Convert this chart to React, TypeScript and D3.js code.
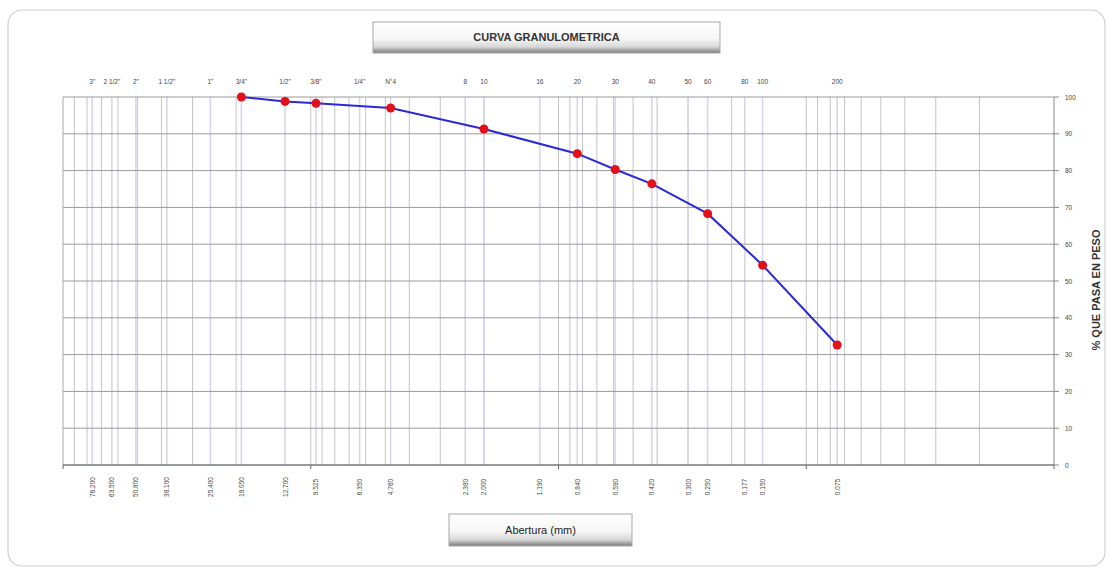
import React from "react";
import * as d3 from "d3";

const sieveNames = ['3"', '2 1/2"', '2"', '1 1/2"', '1"', '3/4"', '1/2"', '3/8"', '1/4"', 'N°4', '8', '10', '16', '20', '30', '40', '50', '60', '80', '100', '200'];
const sieveSizes = [76.2, 63.5, 50.8, 38.1, 25.4, 19.05, 12.7, 9.525, 6.35, 4.76, 2.38, 2.0, 1.19, 0.84, 0.59, 0.42, 0.3, 0.25, 0.177, 0.15, 0.075];
const sieveLabels = ['76.200', '63.500', '50.800', '38.100', '25.400', '19.050', '12.700', '9.525', '6.350', '4.760', '2.380', '2.000', '1.190', '0.840', '0.590', '0.420', '0.300', '0.250', '0.177', '0.150', '0.075'];

const testSizes = [19.05, 12.7, 9.525, 4.76, 2.0, 0.84, 0.59, 0.42, 0.25, 0.15, 0.075];
const testPassing = [100, 98.8, 98.3, 97.0, 91.3, 84.6, 80.3, 76.4, 68.3, 54.3, 32.6];

const yTicks = [0, 10, 20, 30, 40, 50, 60, 70, 80, 90, 100];

const W = 1113, H = 573;
const L = 63, R = 1054, T = 97, B = 465;
const FONT = "'Liberation Sans', Arial, sans-serif";

export default function App() {
  const x = d3.scaleLog().domain([100, 0.01]).range([L, R]);
  const y = d3.scaleLinear().domain([0, 100]).range([B, T]);

  const minor: number[] = [];
  for (let e = -2; e <= 1; e++) {
    for (let m = 1; m <= 9; m++) {
      const v = m * Math.pow(10, e);
      if (v > 0.01 && v < 100) minor.push(v);
    }
  }

  const pts = testSizes.map((s, i) => [x(s), y(testPassing[i])] as [number, number]);
  const line = d3.line().curve(d3.curveLinear)(pts) || "";

  return (
    <svg width={W} height={H} style={{ position: "absolute", left: 0, top: 0 }} fontFamily={FONT}>
      <defs>
        <linearGradient id="btn" x1="0" y1="0" x2="0" y2="1">
          <stop offset="0" stopColor="#ffffff" />
          <stop offset="0.55" stopColor="#f6f6f6" />
          <stop offset="0.8" stopColor="#d8d8d8" />
          <stop offset="1" stopColor="#7a7a7a" />
        </linearGradient>
      </defs>
      <rect x={0} y={0} width={W} height={H} fill="#fff" />
      <rect x={8} y={10} width={1097} height={556} rx={14} fill="#fff" stroke="#cfcfcf" strokeWidth={1.2} />

      {/* Title box */}
      <rect x={373} y={22} width={347} height={31} fill="url(#btn)" stroke="#a8a8a8" strokeWidth={1} />
      <text x={546.5} y={41} textAnchor="middle" fontSize={11} fontWeight="bold" fill="#333">CURVA GRANULOMETRICA</text>

      {/* minor log grid */}
      {minor.map((v, i) => (
        <line key={"m" + i} x1={x(v)} x2={x(v)} y1={T} y2={B} stroke="#c4c4c4" strokeWidth={1} />
      ))}
      {/* sieve lines */}
      {sieveSizes.map((s, i) => (
        <line key={"s" + i} x1={x(s)} x2={x(s)} y1={T} y2={B} stroke="#d4d4ea" strokeWidth={1.5} />
      ))}
      {/* horizontal grid */}
      {yTicks.map((t) => (
        <line key={"h" + t} x1={L} x2={R} y1={y(t)} y2={y(t)} stroke="#9a9a9a" strokeWidth={1} />
      ))}
      <line x1={L} x2={L} y1={T} y2={B} stroke="#aaa" strokeWidth={1} />
      <line x1={L} x2={R} y1={B} y2={B} stroke="#666" strokeWidth={1} />
      <line x1={R} x2={R} y1={T} y2={B} stroke="#888" strokeWidth={1} />
      {[100, 10, 1, 0.1, 0.01].map((v) => (
        <line key={"bt" + v} x1={x(v)} x2={x(v)} y1={B} y2={B + 4} stroke="#666" />
      ))}

      {/* right axis ticks */}
      {yTicks.map((t) => (
        <g key={"yt" + t}>
          <line x1={R} x2={R + 5} y1={y(t)} y2={y(t)} stroke="#888" />
          <text x={R + 11} y={y(t) + 2.5} fontSize={6.5} fill="#444">{t}</text>
        </g>
      ))}
      <text transform={`translate(1100,290) rotate(-90)`} textAnchor="middle" fontSize={11} fontWeight="bold" fill="#333">% QUE PASA EN PESO</text>

      {/* top sieve names */}
      {sieveNames.map((n, i) => (
        <text key={"tn" + i} x={x(sieveSizes[i])} y={84} textAnchor="middle" fontSize={6.5} fill="#444">{n}</text>
      ))}
      {/* bottom size labels */}
      {sieveLabels.map((l, i) => (
        <text key={"bl" + i} transform={`translate(${x(sieveSizes[i]) + 2.5},487) rotate(-90)`} textAnchor="middle" fontSize={6.5} fill="#444">{l}</text>
      ))}

      {/* curve */}
      <path d={line} fill="none" stroke="#2a2ad6" strokeWidth={2} />
      {pts.map((p, i) => (
        <circle key={"p" + i} cx={p[0]} cy={p[1]} r={4.5} fill="#e3101a" />
      ))}

      {/* x title box */}
      <rect x={449} y={514} width={183} height={32} fill="url(#btn)" stroke="#a8a8a8" strokeWidth={1} />
      <text x={540.5} y={534} textAnchor="middle" fontSize={11} fill="#222">Abertura (mm)</text>
    </svg>
  );
}
